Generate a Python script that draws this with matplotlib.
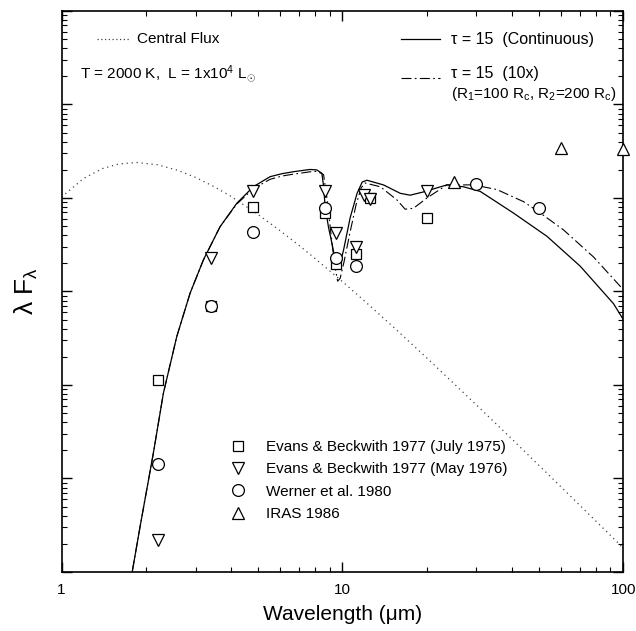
import matplotlib
matplotlib.use("Agg")
import matplotlib.pyplot as plt
from matplotlib.lines import Line2D
import numpy as np

plt.rcParams['font.family'] = ['Liberation Sans', 'DejaVu Sans']
plt.rcParams['mathtext.fontset'] = 'custom'
plt.rcParams['mathtext.rm'] = 'Liberation Sans'
plt.rcParams['mathtext.it'] = 'Liberation Sans'

# ---- data (wavelength in micron, log10 of lambda F_lambda in arbitrary units) ----
central_lam = [1.0, 1.2, 1.4, 1.6, 1.85, 2.2, 2.6, 3.0, 3.5, 4.0, 5.0, 6.0, 7.0, 8.0,
               10, 12, 15, 20, 30, 40, 60, 80, 100]
central_log = [4.01, 4.21, 4.315, 4.364, 4.38, 4.355, 4.295, 4.22, 4.12, 4.02, 3.825,
               3.65, 3.494, 3.352, 3.106, 2.897, 2.635, 2.288, 1.787, 1.426, 0.911,
               0.543, 0.256]

cont_lam = [1.70, 1.778, 1.904, 2.123, 2.305, 2.572, 2.869, 3.199, 3.669, 4.207,
            4.82, 5.53, 6.10, 6.70, 7.67, 8.11, 8.45, 8.56, 8.68, 8.92,
            9.17, 9.384, 9.616, 9.859, 10.09, 10.66, 11.28, 11.76, 12.22, 14.0, 16.07,
            17.42, 19.45, 23.55, 26.98, 30.97, 40.6, 53.5, 70.3, 92.3, 100]
cont_log = [-0.37, -0.03, 0.484, 1.27, 1.911, 2.517, 2.981, 3.337, 3.693, 3.943,
            4.121, 4.228, 4.26, 4.281, 4.305, 4.30, 4.265, 4.14, 3.91, 3.69,
            3.52, 3.37, 3.27, 3.32, 3.44, 3.79, 4.05, 4.17, 4.19, 4.14, 4.05,
            4.03, 4.065, 4.14, 4.12, 4.07, 3.84, 3.59, 3.27, 2.87, 2.70]

x10_lam = [1.70, 1.778, 1.904, 2.123, 2.305, 2.572, 2.869, 3.199, 3.669, 4.207,
           4.82, 5.53, 6.10, 6.70, 7.67, 8.11, 8.45, 8.57, 8.826, 9.12, 9.346, 9.616,
           9.817, 10.14, 10.66, 11.19, 11.67, 12.05, 13.65, 15.63, 16.73, 17.91, 20.0,
           23.55, 29.3, 35.5, 44.2, 50.6, 61.2, 78.3, 100]
x10_log = [-0.37, -0.03, 0.484, 1.27, 1.911, 2.517, 2.981, 3.337, 3.693, 3.935,
           4.10, 4.20, 4.235, 4.255, 4.28, 4.285, 4.26, 4.25, 3.98, 3.60, 3.32, 3.11,
           3.14, 3.32, 3.64, 3.93, 4.11, 4.16, 4.12, 3.98, 3.88, 3.89, 4.00,
           4.14, 4.14, 4.09, 3.96, 3.84, 3.66, 3.37, 3.02]

eb75_lam = [2.2, 3.4, 4.8, 8.7, 9.5, 11.2, 12.5, 20]
eb75_log = [2.05, 2.84, 3.90, 3.84, 3.29, 3.40, 4.00, 3.79]

eb76_lam = [2.2, 3.4, 4.8, 8.7, 9.5, 11.2, 11.9, 12.5, 20]
eb76_log = [0.34, 3.355, 4.07, 4.07, 3.63, 3.48, 4.03, 3.99, 4.075]

werner_lam = [2.2, 3.4, 4.8, 8.7, 9.5, 11.2, 30, 50]
werner_log = [1.155, 2.84, 3.64, 3.89, 3.36, 3.27, 4.146, 3.896]

iras_lam = [25, 60, 100]
iras_log = [4.174, 4.53, 4.52]

series_labels = ["Evans & Beckwith 1977 (July 1975)",
                 "Evans & Beckwith 1977 (May 1976)",
                 "Werner et al. 1980",
                 "IRAS 1986"]

pw = lambda a: 10.0 ** np.asarray(a)

fig = plt.figure(figsize=(6.36, 6.31), dpi=100)
ax = fig.add_axes([0.0967, 0.0935, 0.8833, 0.8891])

ax.plot(central_lam, pw(central_log), color='#444444', lw=0.9, ls=(0, (1, 3)))
ax.plot(cont_lam, pw(cont_log), color='black', lw=0.9, ls='-')
ax.plot(x10_lam, pw(x10_log), color='black', lw=0.8, ls=(0, (9, 3, 1.5, 3)))

mk = dict(mfc='white', mec='black', mew=0.9, ls='none', clip_on=False, zorder=5)
h1, = ax.plot(eb75_lam, pw(eb75_log), marker='s', ms=7.5, label=series_labels[0], **mk)
h2, = ax.plot(eb76_lam, pw(eb76_log), marker='v', ms=8.5, label=series_labels[1], **mk)
h3, = ax.plot(werner_lam, pw(werner_log), marker='o', ms=8.5, label=series_labels[2], **mk)
h4, = ax.plot(iras_lam, pw(iras_log), marker='^', ms=8.5, label=series_labels[3], **mk)

ax.set_xscale('log')
ax.set_yscale('log')
ax.set_xlim(1, 100)
ax.set_ylim(1, 1e6)

ax.set_xticks([1, 10, 100])
ax.set_xticklabels(['1', '10', '100'], fontsize=11)
ax.yaxis.set_minor_formatter(matplotlib.ticker.NullFormatter())
ax.tick_params(which='both', direction='in', top=True, right=True)
ax.tick_params(which='major', length=7, width=1.0, pad=8)
ax.tick_params(which='minor', length=3.5, width=0.8)
ax.tick_params(axis='y', labelleft=False)
for s in ax.spines.values():
    s.set_linewidth(1.2)

ax.set_xlabel('Wavelength (μm)', fontsize=15, labelpad=6)
ax.set_ylabel(r'λ F$_{λ}$', fontsize=19, labelpad=12)

leg = ax.legend(handles=[h1, h2, h3, h4], loc='upper left',
                bbox_to_anchor=(0.284, 0.249), frameon=False, fontsize=11,
                handlelength=1.2, handletextpad=1.25, labelspacing=0.55, borderpad=0)

# key in upper part
T = ax.transAxes
ax.add_line(Line2D([0.063, 0.122], [0.950, 0.950], transform=T, color='#444444',
                   lw=0.9, ls=(0, (1, 2))))
ax.text(0.134, 0.950, 'Central Flux', transform=T, fontsize=11, va='center')
ax.text(0.033, 0.889, r'T = 2000 K,  L = 1x10$^4$ L$_{\odot}$', transform=T,
        fontsize=11, va='center')
ax.add_line(Line2D([0.605, 0.674], [0.950, 0.950], transform=T, color='black', lw=0.9))
ax.text(0.694, 0.950, 'τ = 15  (Continuous)', transform=T, fontsize=11.5, va='center')
ax.add_line(Line2D([0.605, 0.674], [0.880, 0.880], transform=T, color='black', lw=0.8,
                   ls=(0, (9, 3, 1.5, 3))))
ax.text(0.694, 0.889, 'τ = 15  (10x)', transform=T, fontsize=11.5, va='center')
ax.text(0.694, 0.852, r'(R$_1$=100 R$_c$, R$_2$=200 R$_c$)', transform=T,
        fontsize=11, va='center')

fig.savefig('out.png', dpi=100)
